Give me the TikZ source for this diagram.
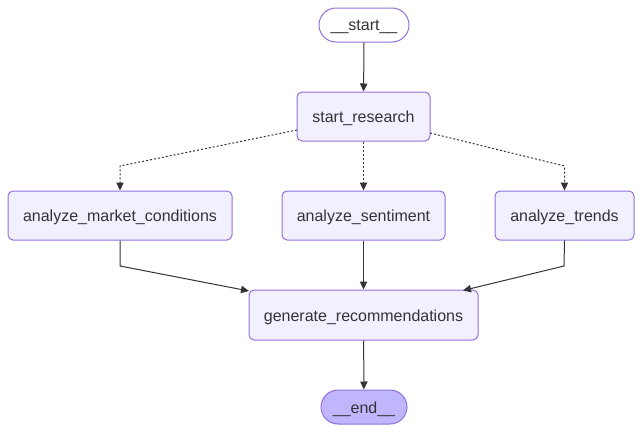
\documentclass[tikz,border=0pt]{standalone}
\usepackage{fontspec}
\setmainfont{Liberation Sans}
\usepackage{xcolor}
\usetikzlibrary{arrows.meta,positioning}
\definecolor{nodeborder}{HTML}{9370DB}
\definecolor{nodefill}{HTML}{F2F0FF}
\definecolor{endfill}{HTML}{BFB6FC}
\definecolor{ink}{HTML}{333333}

\tikzset{
	box/.style={draw=nodeborder,fill=nodefill,line width=0.75pt,rounded corners=3.75pt,
		minimum height=36.75pt,inner sep=2pt,text height=11pt,text depth=2pt,
		text=ink,font=\fontsize{12pt}{14pt}\selectfont},
	term/.style={box,rounded corners=12.75pt,minimum height=25.5pt},
	flow/.style={draw=ink,line width=0.75pt,-{Triangle[length=6pt,width=5.5pt]}},
	cond/.style={flow,dash pattern=on 1.5pt off 1.5pt}
}

\begin{document}
\begin{tikzpicture}[x=0.75pt,y=-0.75pt]
		\useasboundingbox (0,0) rectangle (642,432);
		\node[term,fill=white,minimum width=67.5pt] (start) at (364,25) {\_\_start\_\_};
		\node[box,minimum width=99.75pt] (research) at (363.5,116.5) {start\_research};
		\node[box,minimum width=168pt] (market) at (120,215.5) {analyze\_market\_conditions};
		\node[box,minimum width=122.25pt] (sentiment) at (363.5,215.5) {analyze\_sentiment};
		\node[box,minimum width=104.25pt] (trends) at (564.5,215.5) {analyze\_trends};
		\node[box,minimum width=171.75pt,minimum height=37.5pt] (recommend) at (363.5,315) {generate\_recommendations};
		\node[term,fill=endfill,minimum width=64.5pt] (end) at (364,407) {\_\_end\_\_};
	
		\draw[flow] (start) -- (research);
		\draw[cond] (297,130) -- (market.north |- 0,166) -- (market.north);
		\draw[cond] (research) -- (sentiment);
		\draw[cond] (430,133) -- (trends.north |- 0,166) -- (trends.north);
		\draw[flow] (market.south) -- (120,266) -- (249,291);
		\draw[flow] (sentiment) -- (recommend);
		\draw[flow] (trends.south) -- (564,266) -- (463,290.5);
		\draw[flow] (recommend) -- (end);
	\end{tikzpicture}
\end{document}
